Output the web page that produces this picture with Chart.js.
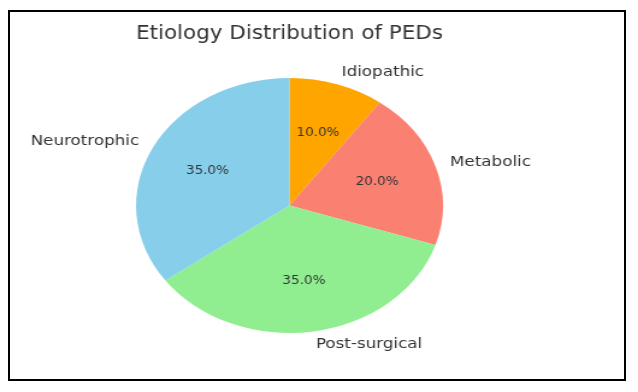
<!DOCTYPE html>
<html>
<head>
<meta charset="utf-8">
<script src="https://cdn.jsdelivr.net/npm/chart.js@4/dist/chart.umd.min.js"></script>
<style>
  html, body { margin: 0; padding: 0; background: #fff; }
  body { width: 638px; height: 392px; position: relative; overflow: hidden; }
  #frame { position: absolute; left: 8px; top: 10px; width: 614px; height: 367px; border: 2px solid #000; }
  /* the original figure is stretched horizontally, so stretch the canvas too */
  #wrap { position: absolute; left: 0; top: 0; width: 530px; height: 392px; transform: scaleX(1.2038); transform-origin: 0 0; }
</style>
</head>
<body>
<div id="frame"></div>
<div id="wrap"><canvas id="pieChart"></canvas></div>
<script>
const categories = ['Idiopathic', 'Metabolic', 'Post-surgical', 'Neurotrophic'];
const shares = [10, 20, 35, 35];
const sliceColors = ['#FFA500', '#FA8072', '#90EE90', '#87CEEB'];
const TEXT_COLOR = '#333333';

// matplotlib style labels: names at 1.1 r, percentages at 0.6 r
const pieLabels = {
    id: 'pieLabels',
    afterDatasetsDraw(chart) {
        const ctx = chart.ctx;
        const meta = chart.getDatasetMeta(0);
        const total = shares.reduce((a, b) => a + b, 0);
        ctx.save();
        ctx.fillStyle = TEXT_COLOR;
        ctx.textBaseline = 'middle';
        meta.data.forEach(function(arc, i) {
            const p = arc.getProps(['x', 'y', 'startAngle', 'endAngle', 'outerRadius'], true);
            const mid = (p.startAngle + p.endAngle) / 2;
            const cx = Math.cos(mid), cy = Math.sin(mid);

            ctx.font = '13.9px "DejaVu Sans"';
            ctx.textAlign = cx > 0 ? 'left' : 'right';
            ctx.fillText(categories[i], p.x + cx * p.outerRadius * 1.1, p.y + cy * p.outerRadius * 1.1);

            // percentages are narrower in the original
            const px = p.x + cx * p.outerRadius * 0.6;
            const py = p.y + cy * p.outerRadius * 0.6;
            const pct = (shares[i] / total * 100).toFixed(1) + '%';
            ctx.save();
            ctx.translate(px, py);
            ctx.scale(0.914, 1);
            ctx.font = '12.3px "DejaVu Sans"';
            ctx.textAlign = 'center';
            ctx.fillText(pct, 0, 0);
            ctx.restore();
        });
        ctx.restore();
    }
};

const ctx = document.getElementById('pieChart');
const pieChart = new Chart(ctx, {
    type: 'pie',
    data: {
        labels: categories,
        datasets: [{
            data: shares,
            backgroundColor: sliceColors,
            borderWidth: 0
        }]
    },
    options: {
        responsive: true,
        maintainAspectRatio: false,
        animation: false,
        layout: {
            padding: { top: 10, bottom: 59, left: 113, right: 162 }
        },
        plugins: {
            legend: { display: false },
            tooltip: { enabled: false },
            title: {
                display: true,
                text: 'Etiology Distribution of PEDs',
                color: TEXT_COLOR,
                font: { family: '"DejaVu Sans"', size: 19.2, weight: 'normal', lineHeight: 1.2 },
                padding: { top: 12.3, bottom: 32.7 }
            }
        }
    },
    plugins: [pieLabels]
});
</script>
</body>
</html>
